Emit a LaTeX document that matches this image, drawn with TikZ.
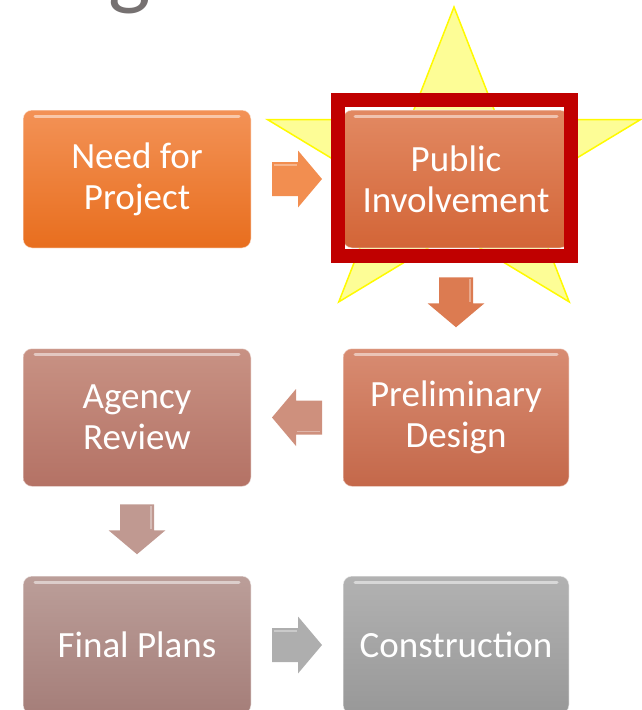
\documentclass[tikz,border=0pt]{standalone}
\usepackage{fontspec}
\setmainfont{Carlito}
\usepackage{tikz}
\usetikzlibrary{calc,positioning}
\definecolor{needtop}{RGB}{243,146,86}
\definecolor{needbot}{RGB}{232,110,30}
\definecolor{pubtop}{RGB}{226,137,98}
\definecolor{pubbot}{RGB}{211,101,55}
\definecolor{pretop}{RGB}{216,140,114}
\definecolor{prebot}{RGB}{196,104,74}
\definecolor{agytop}{RGB}{200,146,132}
\definecolor{agybot}{RGB}{180,114,101}
\definecolor{fintop}{RGB}{187,158,153}
\definecolor{finbot}{RGB}{165,126,121}
\definecolor{contop}{RGB}{178,178,178}
\definecolor{conbot}{RGB}{152,152,152}
\definecolor{frame}{RGB}{192,0,0}
\definecolor{starfill}{RGB}{253,253,150}
\definecolor{starline}{RGB}{255,250,0}
\definecolor{titlegrey}{RGB}{118,113,113}
\newcommand{\flowarrow}[3]{
	\begin{scope}[shift={(#1)},rotate=#2]
	\fill[#3] (-25,-17) -- (1,-17) -- (1,-28.5) -- (25,0) -- (1,28.5) -- (1,17) -- (-25,17) -- cycle;
	\draw[white,opacity=0.35,line width=1.5pt] (-23,-14) -- (0,-14);
	\end{scope}
}
\tikzset{
	stepbox/.style={rounded corners=9pt, minimum width=228pt, minimum height=138pt,
		text=white, align=center, font=\fontsize{37}{41}\selectfont,
		draw=white, draw opacity=0.5, line width=1pt,
		path picture={\draw[white,opacity=0.5,line width=3pt,line cap=round]
			([xshift=12pt,yshift=-6pt]path picture bounding box.north west) --
			([xshift=-12pt,yshift=-6pt]path picture bounding box.north east);}},
	redframe/.style={draw=frame, line width=14pt},
}

\begin{document}
\begin{tikzpicture}[x=1pt,y=-1pt]
	\useasboundingbox (0,0) rectangle (641,710);

	\node[anchor=base, text=titlegrey, font=\fontsize{90}{90}\selectfont] (title) at (130,-2) {g};

	\coordinate (starc) at (454,170);
	\begin{scope}[shift={(starc)},x=196pt,y=163pt]
	\draw[fill=starfill, draw=starline, line width=1.5pt, line join=miter]
		(90:1) -- (126:0.382) -- (162:1) -- (198:0.382) -- (234:1) -- (270:0.382)
		-- (306:1) -- (342:0.382) -- (18:1) -- (54:0.382) -- cycle;
	\end{scope}

	\node[stepbox, top color=needtop, bottom color=needbot] (need) at (137,179) {Need for\\Project};
	\node[stepbox, minimum width=226pt, top color=pubtop, bottom color=pubbot] (public) at (456,179) {Public\\Involvement};
	\node[stepbox, minimum width=226pt, top color=pretop, bottom color=prebot] (prelim) at (456,417.5) {Preliminary\\Design};
	\node[stepbox, top color=agytop, bottom color=agybot] (agency) at (137,417.5) {Agency\\Review};
	\node[stepbox, top color=fintop, bottom color=finbot] (final) at (137,645) {Final Plans};
	\node[stepbox, minimum width=226pt, top color=contop, bottom color=conbot] (constr) at (456,645) {Construction};

	\draw[redframe] ([shift={(-5,-10)}]public.north west) rectangle ([shift={(1,7)}]public.south east);

	\coordinate (arrA) at ($(need.east)!0.5!(public.west)$);
	\coordinate (arrB) at ($(public.south)!0.5!(prelim.north)+(0,4)$);
	\coordinate (arrC) at ($(agency.east)!0.5!(prelim.west)$);
	\coordinate (arrD) at ($(agency.south)!0.5!(final.north)+(0,-2)$);
	\coordinate (arrE) at ($(final.east)!0.5!(constr.west)$);

	\flowarrow{arrA}{0}{needtop!90!needbot}
	\flowarrow{arrB}{-90}{pubtop!60!pubbot}
	\flowarrow{arrC}{180}{pretop!40!agytop}
	\flowarrow{arrD}{-90}{agytop!40!fintop}
	\flowarrow{arrE}{0}{contop!85!conbot}
\end{tikzpicture}
\end{document}
